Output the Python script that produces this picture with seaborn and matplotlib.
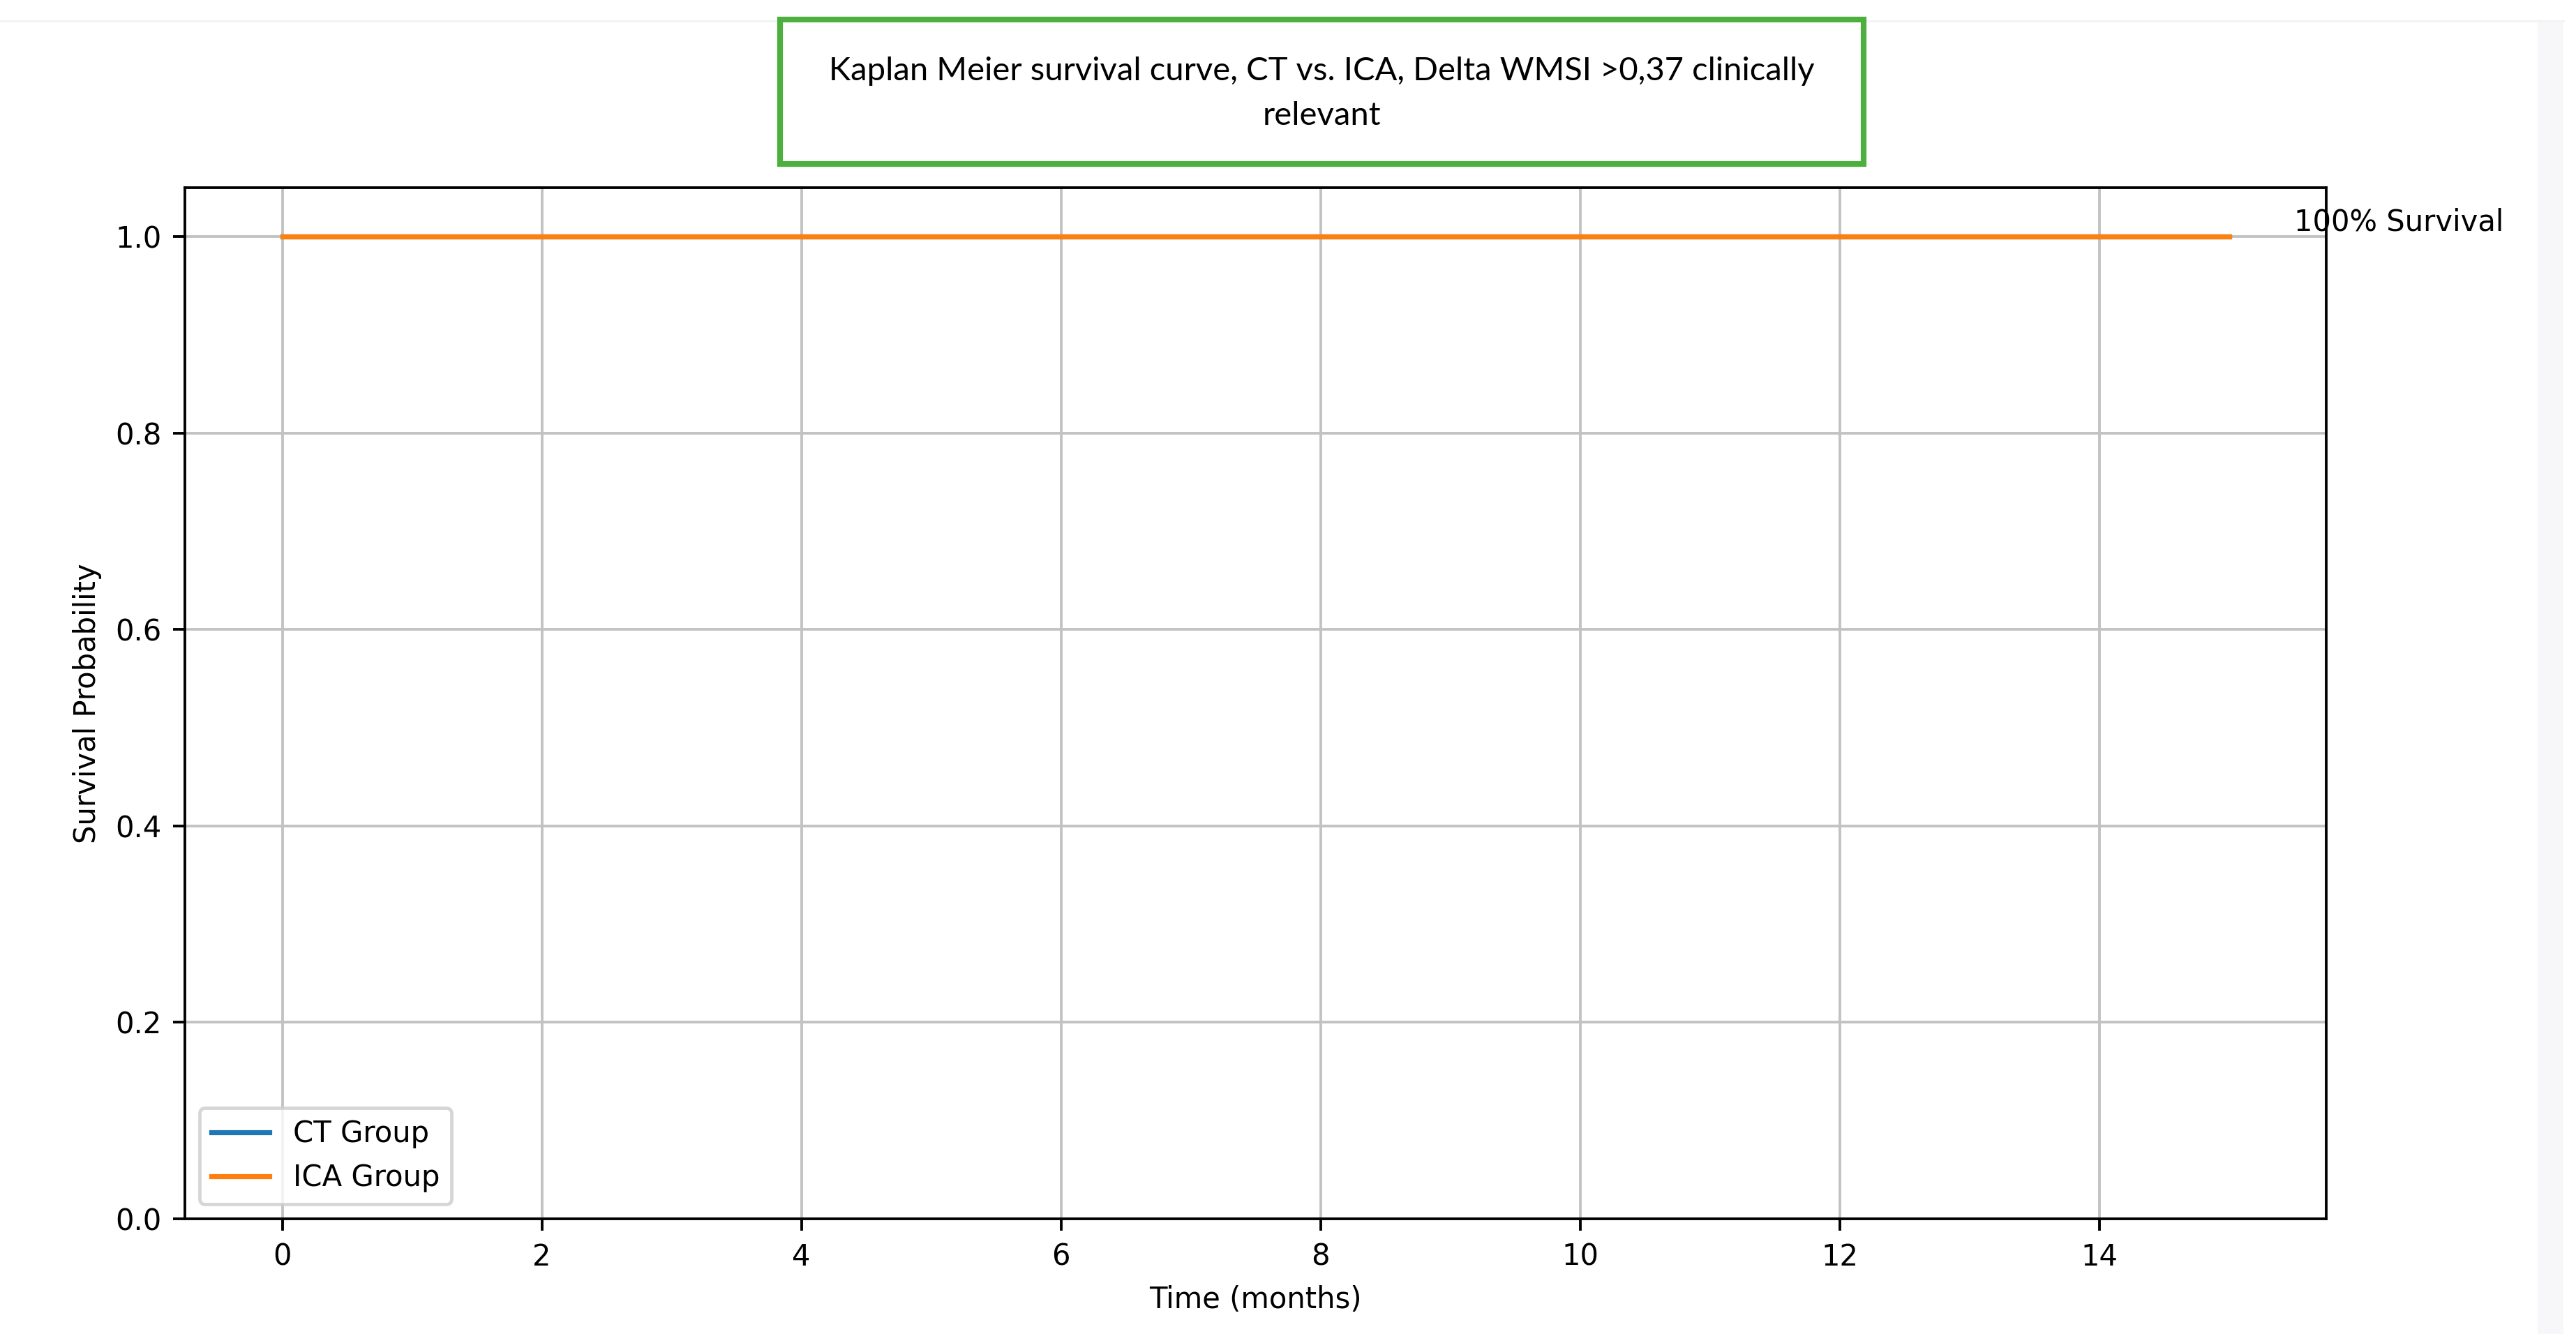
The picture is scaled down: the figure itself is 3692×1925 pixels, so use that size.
import numpy as np
import pandas as pd
import matplotlib
matplotlib.use("Agg")
import matplotlib.pyplot as plt
from matplotlib.patches import Rectangle
import seaborn as sns

# Kaplan Meier estimates (no events in either group -> flat at 1.0)
ct_time = [0, 15]
ct_surv = [1.0, 1.0]
ica_time = [0, 15]
ica_surv = [1.0, 1.0]

groups = ['CT Group', 'ICA Group']
title_txt = 'Kaplan Meier survival curve, CT vs. ICA, Delta WMSI >0,37 clinically\nrelevant'

plt.rcParams['font.size'] = 8.7

W, H, DPI = 3692, 1925, 346
fig = plt.figure(figsize=(W / DPI, H / DPI), dpi=DPI)

# faint screenshot frame on the right / top
fig.patches.append(Rectangle((3637 / W, 1 - 1912 / H), 37 / W, 1882 / H,
                             transform=fig.transFigure, facecolor='#f7f7f9',
                             edgecolor='none', zorder=0))
fig.add_artist(plt.Line2D([0, 3674 / W], [1 - 30 / H, 1 - 30 / H],
                          transform=fig.transFigure, color='#f3f3f5', lw=0.6))

ax = fig.add_axes([265 / W, 1 - 1747 / H, (3334 - 265) / W, (1747 - 269) / H])

df = pd.DataFrame({
    'time': ct_time + ica_time,
    'surv': ct_surv + ica_surv,
    'group': [groups[0]] * len(ct_time) + [groups[1]] * len(ica_time),
})

sns.lineplot(data=df[df['group'] == groups[0]], x='time', y='surv', ax=ax,
             color='#1f77b4', lw=1.5, drawstyle='steps-post', label=groups[0])
sns.lineplot(data=df[df['group'] == groups[1]], x='time', y='surv', ax=ax,
             color='#ff7f0e', lw=1.5, drawstyle='steps-post', label=groups[1])

ax.set_ylim(0, 1.05)
ax.set_xticks(np.arange(0, 15, 2))
ax.set_xlabel('Time (months)')
ax.set_ylabel('Survival Probability')
ax.grid(True, color='#c2c2c2')
ax.text(15.5, 1.0, '100% Survival', va='bottom', ha='left')
ax.legend(loc='lower left')

# green title box (added on top of the figure)
fig.patches.append(Rectangle((1118 / W, 1 - 235 / H), (2671 - 1118) / W, (235 - 28) / H,
                             transform=fig.transFigure, facecolor='white',
                             edgecolor='#4caf3e', lw=1.7, zorder=5))
fig.text((1118 + 2671) / 2 / W, 1 - 134 / H, title_txt, ha='center', va='center',
         family=['Lato', 'DejaVu Sans'], fontsize=9.8, linespacing=1.62, zorder=6)

fig.savefig('out.png', dpi=DPI)
